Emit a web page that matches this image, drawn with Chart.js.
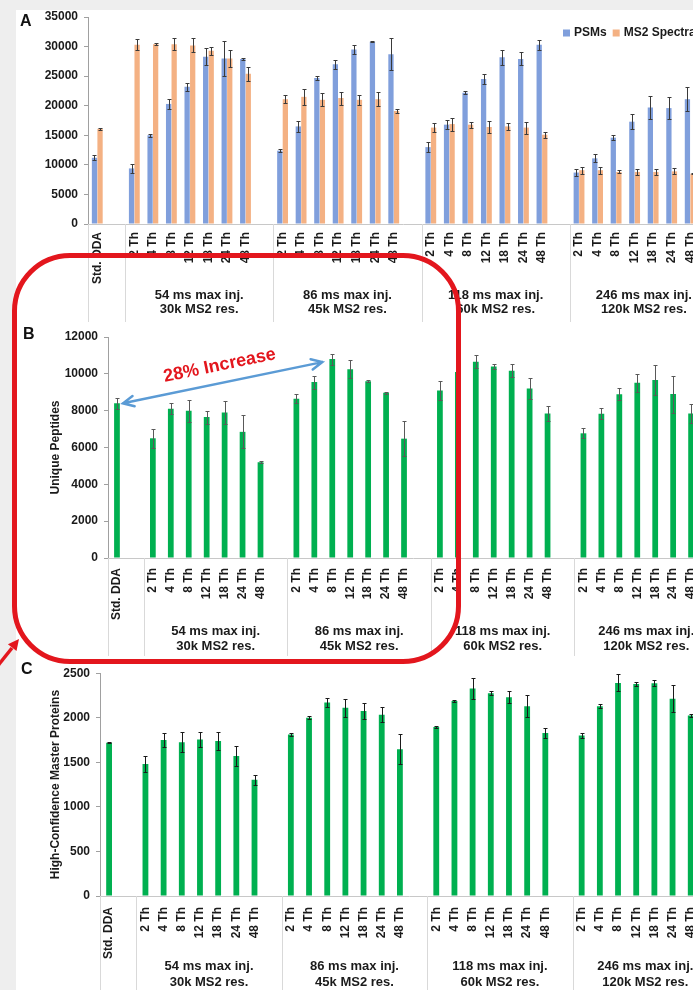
<!DOCTYPE html>
<html>
<head>
<meta charset="utf-8">
<script src="https://cdn.jsdelivr.net/npm/chart.js@4.4.1/dist/chart.umd.min.js"></script>
<style>
  html, body { margin: 0; padding: 0; }
  body { width: 693px; height: 990px; overflow: hidden; position: relative; background: #eeeeee; }
  .sheet { position: absolute; left: 16px; top: 10px; width: 760px; height: 990px; background: #fff; }
  canvas { position: absolute; left: 0; }
  .tag { position: absolute; font: bold 16px "Liberation Sans", Arial, sans-serif; line-height: 16px; color: #111; }
  .ring { position: absolute; left: 12px; top: 253px; width: 449px; height: 411px; box-sizing: border-box;
          border: 5px solid #e3161d; border-radius: 58px; pointer-events: none; }
  .pointer { position: absolute; left: 0; top: 0; pointer-events: none; }
</style>
</head>
<body>
<div class="sheet"></div>
<canvas id="chartA" width="760" height="330" style="top:0"></canvas>
<canvas id="chartB" width="760" height="350" style="top:320px"></canvas>
<canvas id="chartC" width="760" height="330" style="top:660px"></canvas>
<div class="tag" style="left:20px;top:13px">A</div>
<div class="tag" style="left:23px;top:326px">B</div>
<div class="tag" style="left:21px;top:661px">C</div>
<div class="ring"></div>
<svg class="pointer" width="40" height="990">
  <line x1="-4" y1="668" x2="12" y2="648" stroke="#e3161d" stroke-width="3.5"/>
  <polygon points="19,639 16.5,651 7.9,644.2" fill="#e3161d"/>
</svg>
<script>
// categories
const stdLabel = 'Std. DDA';
const thLabels = ['2 Th', '4 Th', '8 Th', '12 Th', '18 Th', '24 Th', '48 Th'];
const groupNames = [
    ['54 ms max inj.', '30k MS2 res.'],
    ['86 ms max inj.', '45k MS2 res.'],
    ['118 ms max inj.', '60k MS2 res.'],
    ['246 ms max inj.', '120k MS2 res.']
];

// values: Std. DDA first, then 7 isolation widths per group
const psms = [11200,
    9400, 15000, 20300, 23200, 28300, 28000, 27900,
    12400, 16500, 24700, 27000, 29500, 30800, 28700,
    13000, 16800, 22200, 24500, 28200, 27900, 30300,
    8700, 11100, 14600, 17300, 19700, 19600, 21100];
const psmsErr = [400,
    700, 300, 900, 700, 1500, 3000, 100,
    300, 900, 400, 800, 700, 100, 2700,
    900, 800, 300, 800, 1300, 1100, 800,
    600, 700, 400, 1300, 2000, 1900, 2000];
const ms2Spectra = [16100,
    30300, 30400, 30400, 30200, 29300, 28000, 25400,
    21100, 21500, 21000, 21300, 21000, 21100, 19100,
    16300, 16900, 16800, 16400, 16500, 16300, 15100,
    9100, 9100, 8800, 8800, 8800, 8900, 8500];
const ms2SpectraErr = [150,
    900, 200, 1000, 1200, 700, 1500, 1200,
    700, 1300, 1100, 1100, 800, 1200, 300,
    700, 1100, 500, 1000, 600, 1000, 500,
    600, 600, 250, 500, 500, 500, 100];
const peptides = [8400,
    6500, 8100, 8000, 7650, 7900, 6850, 5200,
    8650, 9550, 10800, 10250, 9600, 8970, 6480,
    9100, 10100, 10650, 10400, 10170, 9200, 7850,
    6770, 7830, 8890, 9520, 9660, 8900, 7850];
const peptidesErr = [300,
    500, 300, 600, 350, 650, 900, 50,
    250, 350, 300, 500, 60, 40, 950,
    500, 300, 350, 150, 350, 550, 400,
    270, 300, 320, 480, 800, 1000, 520];
const proteins = [1720,
    1480, 1750, 1725, 1757, 1740, 1570, 1305,
    1813, 2000, 2170, 2112, 2075, 2034, 1646,
    1895, 2187, 2328, 2276, 2231, 2130, 1829,
    1801, 2130, 2391, 2380, 2387, 2212, 2026];
const proteinsErr = [8,
    90, 80, 110, 80, 100, 110, 55,
    15, 15, 50, 100, 90, 85, 170,
    15, 8, 115, 25, 65, 120, 55,
    30, 25, 95, 25, 35, 150, 20];

const FONT = '"Liberation Sans", Arial, sans-serif';
Chart.defaults.font.family = FONT;
Chart.defaults.font.weight = 'bold';
Chart.defaults.font.size = 12;
Chart.defaults.color = '#1a1a1a';

// one empty slot after Std. DDA and after every group
const slotLabels = [stdLabel, ''];
groupNames.forEach(() => slotLabels.push(...thLabels, ''));

function toSlots(vals) {
    const out = [vals[0], null];
    for (let g = 0; g < groupNames.length; g++) {
        out.push(...vals.slice(1 + 7 * g, 8 + 7 * g), null);
    }
    return out;
}

// group names use a narrow face when there is one
function groupFont(ctx) {
    ctx.font = 'bold 13px "Liberation Sans Narrow", "Arial Narrow", ' + FONT;
    if (ctx.measureText(groupNames[0][0]).width > 92) ctx.font = 'bold 11px ' + FONT;
}

// group names + separator lines under the tick labels
const groupAxis = {
    id: 'groupAxis',
    afterDraw(chart, args, opts) {
        const { ctx, chartArea } = chart;
        const x = chart.scales.x;
        const bottom = chartArea.bottom;
        ctx.save();
        ctx.strokeStyle = '#d9d9d9';
        ctx.lineWidth = 1;
        const seps = [chartArea.left];
        groupNames.forEach((g, i) => seps.push(x.getPixelForValue(1.5 + 8 * i)));
        seps.forEach(s => {
            const px = Math.round(s) + 0.5;
            ctx.beginPath();
            ctx.moveTo(px, bottom);
            ctx.lineTo(px, bottom + opts.lineLen);
            ctx.stroke();
        });
        ctx.fillStyle = '#1a1a1a';
        groupFont(ctx);
        ctx.textAlign = 'center';
        ctx.textBaseline = 'middle';
        groupNames.forEach((g, i) => {
            const cx = x.getPixelForValue(5.5 + 8 * i);
            ctx.fillText(g[0], cx, bottom + opts.line1);
            ctx.fillText(g[1], cx, bottom + opts.line2);
        });
        ctx.restore();
    }
};

const errorBars = {
    id: 'errorBars',
    afterDatasetsDraw(chart, args, opts) {
        const { ctx } = chart;
        const y = chart.scales.y;
        ctx.save();
        ctx.strokeStyle = opts.color;
        ctx.lineWidth = 1;
        chart.data.datasets.forEach((ds, di) => {
            if (!ds.errors) return;
            chart.getDatasetMeta(di).data.forEach((bar, i) => {
                const v = ds.data[i], e = ds.errors[i];
                if (v == null || e == null) return;
                const top = Math.round(y.getPixelForValue(v + e)) + 0.5;
                const bot = Math.round(y.getPixelForValue(v - e)) + 0.5;
                const bx = Math.round(bar.x) + 0.5;
                ctx.beginPath();
                ctx.moveTo(bx, top); ctx.lineTo(bx, bot);
                ctx.moveTo(bx - 2, top); ctx.lineTo(bx + 2, top);
                ctx.moveTo(bx - 2, bot); ctx.lineTo(bx + 2, bot);
                ctx.stroke();
            });
        });
        ctx.restore();
    }
};

// small legend in the top right corner of panel A
const cornerLegend = {
    id: 'cornerLegend',
    afterDraw(chart, args, opts) {
        const { ctx } = chart;
        ctx.save();
        ctx.font = 'bold 12px ' + FONT;
        ctx.textBaseline = 'middle';
        let x = opts.x;
        chart.data.datasets.forEach(ds => {
            ctx.fillStyle = ds.backgroundColor;
            ctx.fillRect(x, opts.y - 3.5, 7, 7);
            x += 11;
            ctx.fillStyle = '#1a1a1a';
            ctx.fillText(ds.label, x, opts.y);
            x += ctx.measureText(ds.label).width + 6;
        });
        ctx.restore();
    }
};

// "28% Increase" arrow from Std. DDA to 86 ms / 8 Th
const increaseNote = {
    id: 'increaseNote',
    afterDatasetsDraw(chart) {
        const { ctx } = chart;
        const bars = chart.getDatasetMeta(0).data;
        const a = bars[0], b = bars[12];
        const x1 = a.x + 6, y1 = a.y, x2 = b.x - 10, y2 = b.y + 3;
        const ang = Math.atan2(y2 - y1, x2 - x1);
        ctx.save();
        ctx.strokeStyle = '#5b9bd5';
        ctx.lineWidth = 2.5;
        ctx.lineCap = 'round';
        ctx.beginPath();
        ctx.moveTo(x1, y1); ctx.lineTo(x2, y2);
        [[x1, y1, ang], [x2, y2, ang + Math.PI]].forEach(([tx, ty, d]) => {
            ctx.moveTo(tx + 12 * Math.cos(d + 0.45), ty + 12 * Math.sin(d + 0.45));
            ctx.lineTo(tx, ty);
            ctx.lineTo(tx + 12 * Math.cos(d - 0.45), ty + 12 * Math.sin(d - 0.45));
        });
        ctx.stroke();
        ctx.translate((x1 + x2) / 2 - 3, (y1 + y2) / 2 - 17);
        ctx.rotate(ang);
        ctx.fillStyle = '#e3161d';
        ctx.font = 'bold 18px ' + FONT;
        ctx.textAlign = 'center';
        ctx.textBaseline = 'middle';
        ctx.fillText('28% Increase', 0, 0);
        ctx.restore();
    }
};

function baseOptions(cfg) {
    return {
        responsive: false,
        animation: false,
        layout: { padding: { top: cfg.top, right: 42, left: 0, bottom: 0 } },
        plugins: {
            legend: { display: false },
            tooltip: { enabled: false },
            groupAxis: { lineLen: 98, line1: cfg.line1, line2: cfg.line2 },
            errorBars: { color: cfg.errColor },
            cornerLegend: { x: 563, y: 33 }
        },
        scales: {
            x: {
                grid: { display: true, drawOnChartArea: false, drawTicks: false },
                border: { color: '#c8c8c8' },
                ticks: { autoSkip: false, minRotation: 90, maxRotation: 90, padding: cfg.labelPad },
                afterFit: s => { s.height = cfg.xHeight; }
            },
            y: {
                min: 0,
                max: cfg.max,
                ticks: { stepSize: cfg.step, padding: 6, callback: v => String(v) },
                grid: { drawOnChartArea: false, tickLength: 4, color: '#a0a0a0' },
                border: { color: '#a0a0a0' },
                title: cfg.title
                    ? { display: true, text: cfg.title, padding: { top: 48, bottom: 0 }, font: { size: 12, weight: 'bold' } }
                    : { display: false },
                afterFit: s => { s.width = cfg.yWidth; }
            }
        }
    };
}

new Chart(document.getElementById('chartA'), {
    type: 'bar',
    data: {
        labels: slotLabels,
        datasets: [
            { label: 'PSMs', data: toSlots(psms), errors: toSlots(psmsErr),
              backgroundColor: '#809fdc', categoryPercentage: 0.6, barPercentage: 0.95 },
            { label: 'MS2 Spectra', data: toSlots(ms2Spectra), errors: toSlots(ms2SpectraErr),
              backgroundColor: '#f4b183', categoryPercentage: 0.6, barPercentage: 0.95 }
        ]
    },
    options: baseOptions({ top: 17, xHeight: 106, yWidth: 88, max: 35000, step: 5000,
        labelPad: 8, line1: 71, line2: 85, errColor: '#3a3a3a' }),
    plugins: [groupAxis, errorBars, cornerLegend]
});

new Chart(document.getElementById('chartB'), {
    type: 'bar',
    data: {
        labels: slotLabels,
        datasets: [
            { label: 'Unique Peptides', data: toSlots(peptides), errors: toSlots(peptidesErr),
              backgroundColor: '#00b050', categoryPercentage: 0.32, barPercentage: 1 }
        ]
    },
    options: baseOptions({ top: 17, xHeight: 112, yWidth: 108, max: 12000, step: 2000,
        labelPad: 10, line1: 73, line2: 88, errColor: '#595959', title: 'Unique Peptides' }),
    plugins: [groupAxis, errorBars, increaseNote]
});

new Chart(document.getElementById('chartC'), {
    type: 'bar',
    data: {
        labels: slotLabels,
        datasets: [
            { label: 'High-Confidence Master Proteins', data: toSlots(proteins), errors: toSlots(proteinsErr),
              backgroundColor: '#00b050', categoryPercentage: 0.32, barPercentage: 1 }
        ]
    },
    options: baseOptions({ top: 13, xHeight: 94, yWidth: 100, max: 2500, step: 500,
        labelPad: 11, line1: 70, line2: 86, errColor: '#1a1a1a', title: 'High-Confidence Master Proteins' }),
    plugins: [groupAxis, errorBars]
});
</script>
</body>
</html>
